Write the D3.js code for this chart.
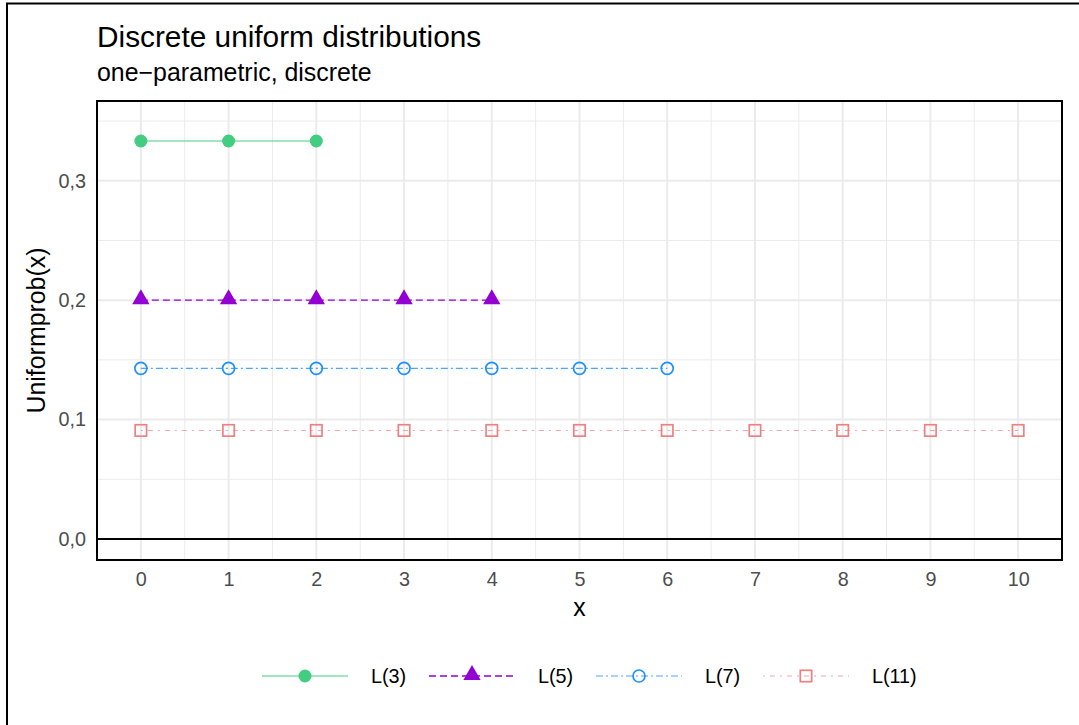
<!DOCTYPE html>
<html><head><meta charset="utf-8">
<script src="https://cdn.jsdelivr.net/npm/d3@7"></script>
<style>body{margin:0;background:#fff} svg{display:block;font-family:"Liberation Sans",Arial,Helvetica,sans-serif}</style>
</head><body><svg id="c" width="1079" height="725"></svg>
<script>
// ---- data ----
const seriesNames = ["L(3)", "L(5)", "L(7)", "L(11)"];
const xL3 = [0, 1, 2];
const yL3 = [0.3333, 0.3333, 0.3333];
const xL5 = [0, 1, 2, 3, 4];
const yL5 = [0.2, 0.2, 0.2, 0.2, 0.2];
const xL7 = [0, 1, 2, 3, 4, 5, 6];
const yL7 = [0.1429, 0.1429, 0.1429, 0.1429, 0.1429, 0.1429, 0.1429];
const xL11 = [0, 1, 2, 3, 4, 5, 6, 7, 8, 9, 10];
const yL11 = [0.0909, 0.0909, 0.0909, 0.0909, 0.0909, 0.0909, 0.0909, 0.0909, 0.0909, 0.0909, 0.0909];
const xTicks = [0, 1, 2, 3, 4, 5, 6, 7, 8, 9, 10];
const yTicks = [0, 0.1, 0.2, 0.3];
const yTickLabels = ["0,0", "0,1", "0,2", "0,3"];
const xMinor = [-0.5, 0.5, 1.5, 2.5, 3.5, 4.5, 5.5, 6.5, 7.5, 8.5, 9.5, 10.5];
const yMinor = [0.05, 0.15, 0.25, 0.35];

// ---- styles ----
const styles = [
  {color: "#43CD80", dash: null, shape: "dot", lw: 1.1, op: 1},
  {color: "#9400D3", dash: "7,4", shape: "tri", lw: 1.3, op: 1},
  {color: "#1E90FF", dash: "7,3,2,3", shape: "ocircle", lw: 1.2, op: 0.8},
  {color: "#F08080", dash: "2,5,5,5", shape: "osquare", lw: 1.1, op: 0.7}
];
const series = [
  {name: seriesNames[0], xs: xL3, ys: yL3},
  {name: seriesNames[1], xs: xL5, ys: yL5},
  {name: seriesNames[2], xs: xL7, ys: yL7},
  {name: seriesNames[3], xs: xL11, ys: yL11}
];

const svg = d3.select("#c");
const P = {l: 97, r: 1062, t: 101, b: 560};
const x = d3.scaleLinear().domain([-0.5, 10.5]).range([P.l, P.r]);
const y = d3.scaleLinear().domain([-0.0176, 0.3668]).range([P.b, P.t]);

// outer frame
svg.append("rect").attr("x", 7).attr("y", 3.5).attr("width", 1200).attr("height", 900)
  .attr("fill", "none").attr("stroke", "#000").attr("stroke-width", 2);

// title
svg.append("text").attr("x", 97).attr("y", 47).attr("font-size", 29.8).attr("fill", "#000")
  .text("Discrete uniform distributions");
svg.append("text").attr("x", 97).attr("y", 81).attr("font-size", 24.9).attr("fill", "#000")
  .text("one\u2212parametric, discrete");

// grid
const g = svg.append("g");
g.selectAll(".xmin").data(xMinor).join("line")
  .attr("x1", d => x(d)).attr("x2", d => x(d)).attr("y1", P.t).attr("y2", P.b)
  .attr("stroke", "#ebebeb").attr("stroke-width", 1);
g.selectAll(".ymin").data(yMinor).join("line")
  .attr("y1", d => y(d)).attr("y2", d => y(d)).attr("x1", P.l).attr("x2", P.r)
  .attr("stroke", "#ebebeb").attr("stroke-width", 1);
g.selectAll(".xmaj").data(xTicks).join("line")
  .attr("x1", d => x(d)).attr("x2", d => x(d)).attr("y1", P.t).attr("y2", P.b)
  .attr("stroke", "#ebebeb").attr("stroke-width", 2);
g.selectAll(".ymaj").data(yTicks).join("line")
  .attr("y1", d => y(d)).attr("y2", d => y(d)).attr("x1", P.l).attr("x2", P.r)
  .attr("stroke", "#ebebeb").attr("stroke-width", 2);

// zero line
svg.append("line").attr("x1", P.l).attr("x2", P.r).attr("y1", y(0)).attr("y2", y(0))
  .attr("stroke", "#000").attr("stroke-width", 2);

// axes (labels only)
const xAxis = d3.axisBottom(x).tickValues(xTicks).tickSize(0).tickPadding(12).tickFormat(d3.format("d"));
const xa = svg.append("g").attr("transform", `translate(0,${P.b})`).call(xAxis);
xa.select(".domain").remove();
xa.selectAll("text").attr("font-size", 19.8).attr("fill", "#4d4d4d").attr("font-family", "Liberation Sans, Arial, sans-serif");

const yAxis = d3.axisLeft(y).tickValues(yTicks).tickSize(0).tickPadding(11).tickFormat((d, i) => yTickLabels[i]);
const ya = svg.append("g").attr("transform", `translate(${P.l},0)`).call(yAxis);
ya.select(".domain").remove();
ya.selectAll("text").attr("font-size", 19.8).attr("fill", "#4d4d4d").attr("font-family", "Liberation Sans, Arial, sans-serif");

// axis titles
svg.append("text").attr("x", (P.l + P.r) / 2).attr("y", 616).attr("text-anchor", "middle")
  .attr("font-size", 24.9).attr("fill", "#000").text("x");
svg.append("text").attr("transform", `translate(45,${(P.t + P.b) / 2}) rotate(-90)`).attr("text-anchor", "middle")
  .attr("font-size", 24.9).attr("fill", "#000").text("Uniformprob(x)");

// markers
function drawMarker(sel, shape, color) {
  if (shape === "dot") {
    sel.append("circle").attr("r", 6.5).attr("fill", color);
  } else if (shape === "tri") {
    sel.append("path").attr("d", d3.symbol(d3.symbolTriangle, 130)()).attr("transform", "translate(0,-1)").attr("fill", color);
  } else if (shape === "ocircle") {
    sel.append("circle").attr("r", 6).attr("fill", "none").attr("stroke", color).attr("stroke-width", 1.7);
  } else {
    sel.append("rect").attr("x", -5.7).attr("y", -5.7).attr("width", 11.4).attr("height", 11.4)
      .attr("fill", "none").attr("stroke", color).attr("stroke-width", 1.7);
  }
}

// series
const plot = svg.append("g");
series.forEach((s, i) => {
  const st = styles[i];
  const pts = s.xs.map((v, j) => [v, s.ys[j]]);
  plot.append("path").datum(pts)
    .attr("d", d3.line().x(d => x(d[0])).y(d => y(d[1])))
    .attr("fill", "none").attr("stroke", st.color).attr("stroke-width", st.lw)
    .attr("stroke-opacity", st.op).attr("stroke-dasharray", st.dash);
  pts.forEach(p => {
    const m = plot.append("g").attr("transform", `translate(${x(p[0])},${y(p[1])})`);
    drawMarker(m, st.shape, st.color);
  });
});

// panel border
svg.append("rect").attr("x", P.l).attr("y", P.t).attr("width", P.r - P.l).attr("height", P.b - P.t)
  .attr("fill", "none").attr("stroke", "#000").attr("stroke-width", 2);

// legend
const legStarts = [262, 429, 596, 763];
const keyW = 86, ly = 676;
series.forEach((s, i) => {
  const st = styles[i];
  const lg = svg.append("g").attr("transform", `translate(${legStarts[i]},${ly})`);
  lg.append("line").attr("x1", 0).attr("x2", keyW).attr("y1", 0).attr("y2", 0)
    .attr("stroke", st.color).attr("stroke-width", st.lw).attr("stroke-opacity", st.op)
    .attr("stroke-dasharray", st.dash);
  drawMarker(lg.append("g").attr("transform", `translate(${keyW / 2},0)`), st.shape, st.color);
  lg.append("text").attr("x", 109).attr("y", 7).attr("font-size", 19.8).attr("fill", "#000").text(s.name);
});
</script></body></html>
